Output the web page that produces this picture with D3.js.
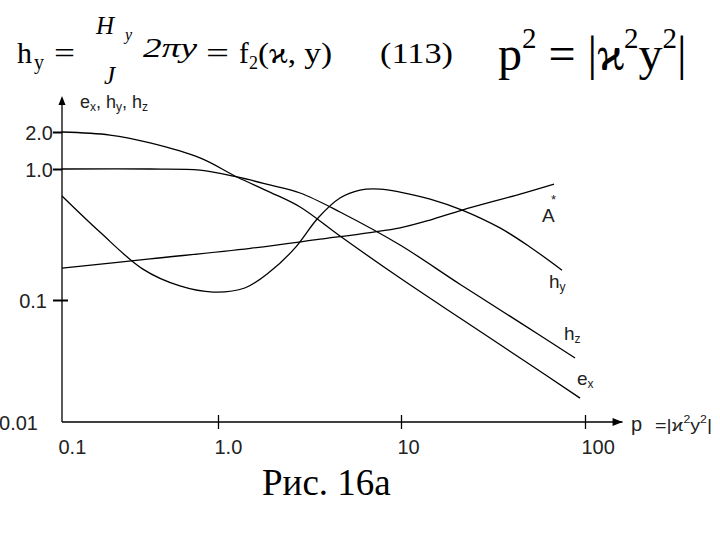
<!DOCTYPE html>
<html>
<head>
<meta charset="utf-8">
<script src="https://cdn.jsdelivr.net/npm/d3@7"></script>
<style>
body { margin: 0; background: #fff; }
svg { display: block; }
.sans { font-family: "Liberation Sans", Arial, sans-serif; fill: #222; }
.serif { font-family: "Liberation Serif", "Times New Roman", serif; fill: #000; }
</style>
</head>
<body>
<svg width="720" height="540"></svg>
<script>
// tick values and labels
var xTicks = [0.1, 1, 10, 100];
var xTickLabels = ["0.1", "1.0", "10", "100"];
var yTicks = [0.01, 0.1, 1, 2];
var yTickLabels = ["0.01", "0.1", "1.0", "2.0"];

// curves (p, value)
var pEx = [0.1, 0.203, 0.367, 0.767, 1.27, 1.92, 2.81, 4.64, 9.88, 20.9, 44.4, 94.0];
var ex  = [2.0, 1.89, 1.63, 1.23, 0.869, 0.667, 0.513, 0.308, 0.147, 0.0711, 0.0335, 0.0157];

var pHz = [0.1, 0.367, 0.767, 1.27, 1.92, 2.81, 4.64, 9.88, 20.9, 44.4, 88.3];
var hz  = [1.0, 1.0, 0.98, 0.869, 0.755, 0.656, 0.470, 0.263, 0.132, 0.0653, 0.0335];

var pHy = [0.1, 0.175, 0.330, 0.570, 0.93, 1.40, 1.92, 2.63, 3.52, 4.64, 5.97, 7.68, 9.88, 14.4, 21.5, 34.5, 50.2, 75.0];
var hy  = [0.622, 0.330, 0.172, 0.128, 0.115, 0.1235, 0.164, 0.249, 0.423, 0.601, 0.691, 0.703, 0.667, 0.590, 0.486, 0.355, 0.254, 0.169];

var pA = [0.1, 0.367, 1.50, 3.61, 6.77, 9.88, 14.4, 21.5, 44.4, 67.9];
var aStar = [0.175, 0.206, 0.248, 0.291, 0.327, 0.355, 0.408, 0.486, 0.644, 0.768];

var svg = d3.select("svg");

svg.append("rect").attr("width", 720).attr("height", 540).attr("fill", "#fff");

// hand drawn axes are not even per decade, so piecewise log scales
var x = d3.scaleLog()
    .domain([0.1, 1, 10, 100])
    .range([62, 218, 401, 585]);

var y = d3.scaleLog()
    .domain([0.01, 0.1, 1, 2])
    .range([422, 300, 169, 132]);

var x0 = x(0.1), y0 = y(0.01);

// x axis
var xAxis = svg.append("g")
    .attr("transform", "translate(0," + y0 + ")")
    .call(d3.axisBottom(x)
        .tickValues(xTicks)
        .tickFormat(function (d, i) { return xTickLabels[i]; })
        .tickSize(7));
xAxis.select(".domain").remove();
xAxis.selectAll(".tick line")
    .attr("y1", -7).attr("y2", 7)
    .attr("stroke", "#000").attr("stroke-width", 1.3)
    .attr("opacity", function (d) { return d === 0.1 ? 0 : 1; });
xAxis.selectAll(".tick text")
    .attr("class", "sans")
    .attr("y", 32).attr("dy", null)
    .attr("x", -4)
    .attr("text-anchor", "start")
    .style("font-size", "20px");

// y axis
var yAxis = svg.append("g")
    .attr("transform", "translate(" + x0 + ",0)")
    .call(d3.axisLeft(y)
        .tickValues(yTicks)
        .tickFormat(function (d, i) { return yTickLabels[i]; })
        .tickSize(9));
yAxis.select(".domain").remove();
yAxis.selectAll(".tick line")
    .attr("x1", -9)
    .attr("x2", function (d) { return d === 0.1 ? 6 : 0; })
    .attr("stroke", "#000").attr("stroke-width", 2)
    .attr("opacity", function (d) { return d === 0.01 ? 0 : 1; });
yAxis.selectAll(".tick text")
    .attr("class", "sans")
    .attr("x", function (d) { return d === 0.01 ? -24 : (d === 0.1 ? -15 : -9); })
    .attr("dy", "0.36em")
    .style("font-size", "20px");

// axis lines with arrows
svg.append("line")
    .attr("x1", x0).attr("y1", y0).attr("x2", x(160)).attr("y2", y0)
    .attr("stroke", "#000").attr("stroke-width", 1.3);
svg.append("path")
    .attr("d", "M" + x(160) + "," + y0 + "l-10,-4l0,8z")
    .attr("fill", "#000");
svg.append("line")
    .attr("x1", x0).attr("y1", y0).attr("x2", x0).attr("y2", 98)
    .attr("stroke", "#000").attr("stroke-width", 1.3);
svg.append("path")
    .attr("d", "M" + x0 + ",96l-3.5,9l7,0z")
    .attr("fill", "#000");

// curves
var lineGen = d3.line()
    .x(function (d) { return x(d[0]); })
    .y(function (d) { return y(d[1]); })
    .curve(d3.curveCatmullRom.alpha(0.5));

function draw(ps, vs) {
    svg.append("path")
        .datum(ps.map(function (p, i) { return [p, vs[i]]; }))
        .attr("d", lineGen)
        .attr("fill", "none")
        .attr("stroke", "#000")
        .attr("stroke-width", 1.3);
}
draw(pEx, ex);
draw(pHz, hz);
draw(pHy, hy);
draw(pA, aStar);

// curve labels
function label(tx, ty, main, sub) {
    var t = svg.append("text").attr("class", "sans")
        .attr("x", tx).attr("y", ty).style("font-size", "19px");
    t.append("tspan").text(main);
    if (sub) t.append("tspan").attr("dy", 3).style("font-size", "12px").text(sub);
}
label(542, 222, "A");
svg.append("text").attr("class", "sans").attr("x", 551).attr("y", 204)
    .style("font-size", "13px").text("*");
label(549, 288, "h", "y");
label(564, 340, "h", "z");
label(577, 385, "e", "x");

// axis titles
var yt = svg.append("text").attr("class", "sans").attr("x", 80).attr("y", 108).style("font-size", "18px");
yt.append("tspan").text("e");
yt.append("tspan").attr("dy", 3).style("font-size", "12px").text("x");
yt.append("tspan").attr("dy", -3).text(", h");
yt.append("tspan").attr("dy", 3).style("font-size", "12px").text("y");
yt.append("tspan").attr("dy", -3).text(", h");
yt.append("tspan").attr("dy", 3).style("font-size", "12px").text("z");

svg.append("text").attr("class", "sans").attr("x", 631).attr("y", 431).style("font-size", "20px").text("p");
var pt = svg.append("text").attr("class", "sans").attr("x", 655).attr("y", 431)
    .style("font-size", "16px")
    .attr("textLength", 57).attr("lengthAdjust", "spacingAndGlyphs");
pt.append("tspan").text("=|ϰ");
pt.append("tspan").attr("dy", -8).style("font-size", "10px").text("2");
pt.append("tspan").attr("dy", 8).text("y");
pt.append("tspan").attr("dy", -8).style("font-size", "10px").text("2");
pt.append("tspan").attr("dy", 8).text("|");

// header formula
function serif(tx, ty, size, str, italic, len) {
    var t = svg.append("text").attr("class", "serif")
        .attr("x", tx).attr("y", ty)
        .style("font-size", size + "px")
        .style("font-style", italic ? "italic" : "normal")
        .text(str);
    if (len) t.attr("textLength", len).attr("lengthAdjust", "spacingAndGlyphs");
    return t;
}
serif(17, 63, 30, "h");
serif(34, 69, 20, "y");
serif(54, 63, 30, "=", false, 21);
serif(96, 34, 25, "H", true);
serif(125, 40, 16, "y", true);
serif(104, 84, 25, "J", true);
serif(143, 57, 27, "2πy", true, 54);
serif(206, 63, 30, "=", false, 23);
serif(239, 63, 29, "f");
serif(249, 69, 18, "2");
serif(258, 63, 29, "(ϰ, y)", false, 74);
serif(380, 63, 30, "(113)", false, 73);

var big = svg.append("text").attr("class", "serif").attr("x", 498).attr("y", 70).style("font-size", "48px");
big.append("tspan").text("p");
big.append("tspan").attr("dy", -22).style("font-size", "29px").text("2");
big.append("tspan").attr("dy", 22).text(" = |ϰ");
big.append("tspan").attr("dy", -22).style("font-size", "29px").text("2");
big.append("tspan").attr("dy", 22).text("y");
big.append("tspan").attr("dy", -22).style("font-size", "29px").text("2");
big.append("tspan").attr("dy", 22).text("|");

serif(262, 495, 37, "Рис. 16а");
</script>
</body>
</html>
